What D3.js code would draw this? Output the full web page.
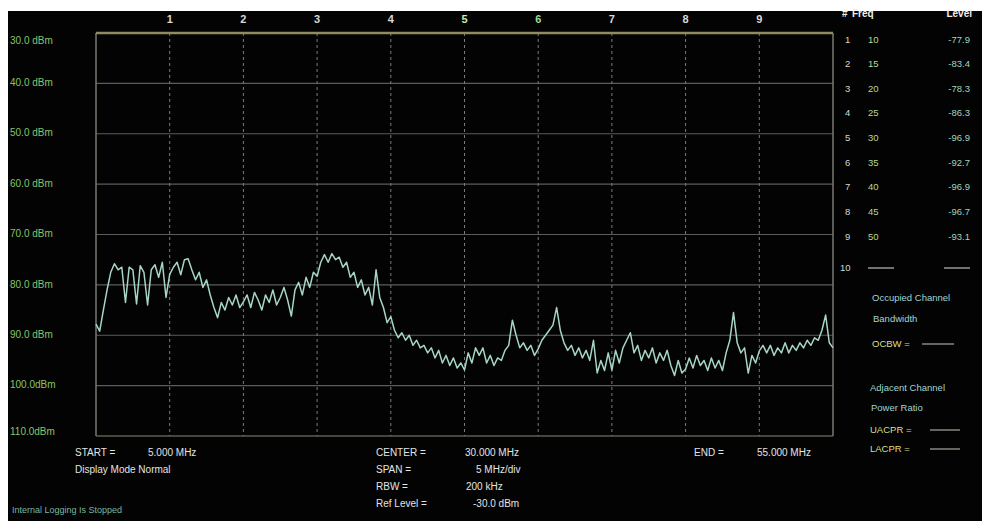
<!DOCTYPE html>
<html>
<head>
<meta charset="utf-8">
<title>Spectrum</title>
<script src="https://d3js.org/d3.v7.min.js"></script>
<style>
  body { margin: 0; background: #fff; }
  svg text { font-family: "Liberation Sans", Arial, sans-serif; }
</style>
</head>
<body>
<script>
// sweep: 5 MHz to 55 MHz, one reading every 0.25 MHz
var startFreq = 5, stepFreq = 0.25;
var traceLevels = [
  -87.8, -89.2, -85.0, -81.0, -77.5, -75.8, -77.0, -76.5, -83.5, -76.5,
  -77.0, -83.8, -76.2, -77.5, -84.0, -77.0, -76.0, -78.5, -75.5, -82.5,
  -77.9, -76.5, -75.5, -78.0, -75.0, -74.8, -77.0, -79.0, -77.5, -80.5,
  -79.0, -82.0, -84.5, -86.5, -83.5, -85.0, -82.5, -84.0, -82.0, -84.5,
  -83.4, -82.0, -84.5, -81.5, -83.0, -85.0, -82.0, -83.5, -81.0, -84.0,
  -82.5, -80.5, -83.0, -86.2, -81.0, -79.5, -82.0, -78.5, -80.5, -77.5,
  -78.3, -75.5, -74.0, -75.5, -73.8, -75.0, -74.5, -76.5, -75.5, -78.5,
  -77.5, -80.5, -79.0, -82.0, -80.5, -84.0, -77.0, -82.5, -84.5, -87.5,
  -86.3, -89.0, -90.5, -89.5, -91.0, -90.0, -92.0, -91.0, -92.5, -92.0,
  -93.5, -92.5, -94.5, -93.0, -95.5, -94.0, -96.0, -94.5, -96.5, -95.5,
  -96.9, -93.5, -95.5, -92.5, -94.0, -92.5, -95.5, -94.0, -96.0, -94.5,
  -95.0, -93.0, -92.0, -87.0, -90.0, -92.5, -91.5, -93.0, -92.0, -94.0,
  -92.7, -91.0, -90.0, -89.0, -88.0, -84.5, -89.0, -91.5, -93.0, -92.0,
  -94.0, -92.5, -94.5, -93.0, -95.0, -91.0, -97.5, -95.0, -97.0, -93.5,
  -96.9, -93.0, -95.5, -92.5, -91.0, -89.5, -93.5, -92.0, -95.0, -93.0,
  -94.5, -92.5, -95.5, -93.5, -95.0, -93.0, -96.0, -98.0, -95.0, -97.5,
  -96.7, -94.5, -96.5, -94.0, -96.0, -95.0, -97.0, -94.5, -96.5, -95.0,
  -97.0, -93.5, -91.0, -85.5, -91.5, -93.5, -92.5, -97.5, -94.0, -95.5,
  -93.1, -92.0, -93.5, -92.0, -94.0, -92.5, -93.5, -91.5, -93.5, -92.0,
  -93.0, -91.5, -92.5, -91.0, -92.0, -90.5, -91.0, -89.0, -86.0, -91.5,
  -92.5
];

var yTickValues = [-30, -40, -50, -60, -70, -80, -90, -100, -110];
var yTickLabels = ["30.0 dBm", "40.0 dBm", "50.0 dBm", "60.0 dBm", "70.0 dBm",
                   "80.0 dBm", "90.0 dBm", "100.0dBm", "110.0dBm"];
var divFreqs = [10, 15, 20, 25, 30, 35, 40, 45, 50];
var divLabels = ["1", "2", "3", "4", "5", "6", "7", "8", "9"];

var markerNums = ["1", "2", "3", "4", "5", "6", "7", "8", "9", "10"];
var markerFreqs = ["10", "15", "20", "25", "30", "35", "40", "45", "50", null];
var markerLevels = ["-77.9", "-83.4", "-78.3", "-86.3", "-96.9", "-92.7", "-96.9", "-96.7", "-93.1", null];

var width = 982, height = 521;
var plot = {left: 96, right: 833, top: 33, bottom: 436};

var svg = d3.select("body").append("svg")
  .attr("width", width)
  .attr("height", height);

svg.append("rect").attr("width", width).attr("height", height).attr("fill", "#fff");
svg.append("rect").attr("x", 8).attr("y", 11)
  .attr("width", width - 8).attr("height", height - 11).attr("fill", "#030303");

var x = d3.scaleLinear().domain([5, 55]).range([plot.left, plot.right]);
var y = d3.scaleLinear().domain([-110, -30]).range([plot.bottom, plot.top]);

// horizontal grid
svg.append("g").selectAll("line")
  .data(yTickValues.slice(1))
  .enter().append("line")
  .attr("x1", plot.left).attr("x2", plot.right)
  .attr("y1", function(d) { return y(d); })
  .attr("y2", function(d) { return y(d); })
  .attr("stroke", function(d) { return d === -110 ? "#8a8a7a" : "#5c5c5c"; })
  .attr("stroke-width", 1.2);

// vertical dashed grid
svg.append("g").selectAll("line")
  .data(divFreqs)
  .enter().append("line")
  .attr("x1", function(d) { return x(d); })
  .attr("x2", function(d) { return x(d); })
  .attr("y1", plot.top).attr("y2", plot.bottom)
  .attr("stroke", "#7a7a7a")
  .attr("stroke-width", 1)
  .attr("stroke-dasharray", "3,3");

// frame
svg.append("line").attr("x1", plot.left).attr("x2", plot.left)
  .attr("y1", plot.top).attr("y2", plot.bottom)
  .attr("stroke", "#7a7a72").attr("stroke-width", 1.5);
svg.append("line").attr("x1", plot.right).attr("x2", plot.right)
  .attr("y1", plot.top).attr("y2", plot.bottom)
  .attr("stroke", "#7a7a72").attr("stroke-width", 1.5);
svg.append("line").attr("x1", plot.left).attr("x2", plot.right)
  .attr("y1", plot.top).attr("y2", plot.top)
  .attr("stroke", "#8e8c62").attr("stroke-width", 2.5);

// division numbers
var divColors = {"5": "#d4e6a8", "6": "#9cdc96"};
svg.append("g").selectAll("text")
  .data(divFreqs)
  .enter().append("text")
  .attr("x", function(d) { return x(d); })
  .attr("y", 20)
  .attr("text-anchor", "middle")
  .attr("dominant-baseline", "middle")
  .attr("font-size", 11)
  .attr("font-weight", "bold")
  .attr("fill", function(d, i) { return divColors[divLabels[i]] || "#d8d8d8"; })
  .text(function(d, i) { return divLabels[i]; });

// y labels
svg.append("g").selectAll("text")
  .data(yTickValues)
  .enter().append("text")
  .attr("x", 10)
  .attr("y", function(d) {
    if (d === -30) return y(d) + 8;
    if (d === -110) return y(d) - 4;
    return y(d);
  })
  .attr("dominant-baseline", "middle")
  .attr("font-size", 10)
  .attr("fill", "#86c46a")
  .text(function(d, i) { return yTickLabels[i]; });

// trace
var line = d3.line()
  .x(function(d, i) { return x(startFreq + i * stepFreq); })
  .y(function(d) { return y(d); });
svg.append("path")
  .datum(traceLevels)
  .attr("d", line)
  .attr("fill", "none")
  .attr("stroke", "#a6d6c6")
  .attr("stroke-width", 1.5)
  .attr("stroke-linejoin", "round");

// bottom info
function label(tx, ty, str, col, size, bold) {
  return svg.append("text").attr("x", tx).attr("y", ty)
    .attr("dominant-baseline", "middle")
    .attr("font-size", size || 10)
    .attr("font-weight", bold ? "bold" : "normal")
    .attr("fill", col || "#e4e4e4")
    .text(str);
}
label(75, 453, "START =");
label(148, 453, "5.000 MHz");
label(75, 470, "Display Mode Normal");
label(12, 511, "Internal Logging Is Stopped", "#78b8a2", 9);
label(376, 453, "CENTER =");
label(465, 453, "30.000 MHz");
label(376, 470, "SPAN =");
label(476, 470, "5 MHz/div");
label(376, 487, "RBW =");
label(466, 487, "200 kHz");
label(376, 504, "Ref Level =");
label(473, 504, "-30.0 dBm");
label(694, 453, "END =");
label(757, 453, "55.000 MHz");

// marker table
label(842, 14, "#", "#eeeeee", 10, true);
label(852, 14, "Freq", "#eeeeee", 10, true);
label(972, 14, "Level", "#eeeeee", 10, true).attr("text-anchor", "end");

var rowY = d3.scaleLinear().domain([0, 8]).range([40, 237]);
var rows = svg.append("g").selectAll("g")
  .data(markerNums)
  .enter().append("g")
  .attr("transform", function(d, i) {
    return "translate(0," + (i < 9 ? rowY(i) : 268) + ")";
  });
rows.append("text")
  .attr("x", function(d) { return d === "10" ? 840 : 845; })
  .attr("dominant-baseline", "middle")
  .attr("font-size", 9.5)
  .attr("fill", "#d0d8d4")
  .text(function(d) { return d; });
rows.append("text")
  .attr("x", 868)
  .attr("dominant-baseline", "middle")
  .attr("font-size", 9.5)
  .attr("fill", "#b4d89a")
  .text(function(d, i) { return markerFreqs[i]; });
rows.append("text")
  .attr("x", 970)
  .attr("text-anchor", "end")
  .attr("dominant-baseline", "middle")
  .attr("font-size", 9.5)
  .attr("fill", "#9ed6c4")
  .text(function(d, i) { return markerLevels[i]; });
rows.filter(function(d, i) { return markerFreqs[i] === null; })
  .each(function() {
    var g = d3.select(this);
    g.append("line").attr("x1", 868).attr("x2", 894).attr("y1", 0).attr("y2", 0)
      .attr("stroke", "#bcbcbc").attr("stroke-width", 1.2);
    g.append("line").attr("x1", 944).attr("x2", 970).attr("y1", 0).attr("y2", 0)
      .attr("stroke", "#bcbcbc").attr("stroke-width", 1.2);
  });

// channel measurements
label(872, 298, "Occupied Channel", "#a2d4d2", 9.5);
label(873, 319, "Bandwidth", "#a2d4d2", 9.5);
label(872, 344, "OCBW =", "#dede8a", 9.5);
label(870, 388, "Adjacent Channel", "#a2d4d2", 9.5);
label(871, 408, "Power Ratio", "#a2d4d2", 9.5);
label(870, 430, "UACPR =", "#dede8a", 9.5);
label(870, 449, "LACPR =", "#dede8a", 9.5);
[[922, 954, 344], [930, 960, 430], [930, 960, 449]].forEach(function(s) {
  svg.append("line").attr("x1", s[0]).attr("x2", s[1])
    .attr("y1", s[2]).attr("y2", s[2])
    .attr("stroke", "#a8a8a0").attr("stroke-width", 1.2);
});
</script>
</body>
</html>
